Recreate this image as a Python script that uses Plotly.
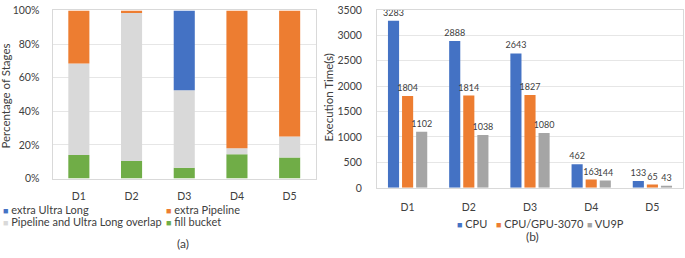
import numpy as np
import plotly.graph_objects as go

W, H = 685, 258
FONT = "Lato, 'Open Sans', sans-serif"
TXT = "#404040"

# ---------------- data (a) ----------------
cats = ["D1", "D2", "D3", "D4", "D5"]
fill_bucket = [14.0, 10.5, 6.5, 14.5, 12.5]
overlap = [54.5, 88.0, 46.0, 3.5, 12.5]
extra_ultra = [0.0, 0.0, 47.5, 0.0, 0.0]
extra_pipe = [31.5, 1.5, 0.0, 82.0, 75.0]
pct_ticks = [0, 20, 40, 60, 80, 100]

# ---------------- data (b) ----------------
cpu = [3283, 2888, 2643, 462, 133]
gpu = [1804, 1814, 1827, 163, 65]
vu9p = [1102, 1038, 1080, 144, 43]
time_ticks = [0, 500, 1000, 1500, 2000, 2500, 3000, 3500]

BLUE, ORANGE, GRAY, LGRAY, GREEN = "#4472C4", "#ED7D31", "#A5A5A5", "#D9D9D9", "#70AD47"


def px(x):
    return x / W


def py(y):
    return 1 - y / H


fig = go.Figure()

# stacked bars for (a) built via base = cumulative sums
stack = [("fill bucket", fill_bucket, GREEN),
         ("Pipeline and Ultra Long overlap", overlap, LGRAY),
         ("extra Ultra Long", extra_ultra, BLUE),
         ("extra Pipeline", extra_pipe, ORANGE)]
base = np.zeros(len(cats))
for name, vals, col in stack:
    v = np.array(vals, dtype=float)
    fig.add_trace(go.Bar(x=cats, y=v, base=base.copy(), name=name, marker_color=col,
                         marker_line_width=0, offsetgroup="L", width=0.4,
                         xaxis="x", yaxis="y", showlegend=False, hoverinfo="skip"))
    base = base + v

# grouped bars for (b)
for i, (name, vals, col) in enumerate([("CPU", cpu, BLUE), ("CPU/GPU-3070", gpu, ORANGE), ("VU9P", vu9p, GRAY)]):
    fig.add_trace(go.Bar(x=cats, y=vals, name=name, marker_color=col, marker_line_width=0,
                         offsetgroup=str(i), xaxis="x2", yaxis="y2", showlegend=False,
                         text=[str(v) for v in vals], textposition="outside",
                         constraintext="none", cliponaxis=False,
                         textfont=dict(size=9, color=TXT, family=FONT)))

axis_common = dict(showline=True, linecolor="#D9D9D9", linewidth=1, mirror=True,
                   tickfont=dict(size=10.5, color=TXT, family=FONT), zeroline=False,
                   ticklabeloverflow="allow")

fig.update_layout(
    width=W, height=H, autosize=False,
    margin=dict(l=0, r=0, t=0, b=0),
    paper_bgcolor="white", plot_bgcolor="white",
    barmode="group", bargap=0.31, bargroupgap=0.21,
    font=dict(family=FONT, color=TXT),
    xaxis=dict(domain=[px(52.5), px(316)], anchor="y", showgrid=False,
               ticklabelstandoff=8, **axis_common),
    yaxis=dict(domain=[py(181), py(4.7)], anchor="x", range=[0, 100],
               tickvals=pct_ticks, ticktext=[f"{t}%" for t in pct_ticks],
               showgrid=True, gridcolor="#E6E6E6", gridwidth=1,
               ticklabelstandoff=10, **axis_common),
    xaxis2=dict(domain=[px(377), px(683)], anchor="y2", showgrid=False,
                ticklabelstandoff=10, **axis_common),
    yaxis2=dict(domain=[py(190.7), py(4)], anchor="x2", range=[0, 3500],
                tickvals=time_ticks, showgrid=True, gridcolor="#E6E6E6", gridwidth=1,
                ticklabelstandoff=12, **axis_common),
)

ann = []
ann.append(dict(text="Percentage of Stages", x=px(6), y=py(95), textangle=-90,
                font=dict(size=11.5, color=TXT, family=FONT)))
ann.append(dict(text="Execution Time(s)", x=px(329), y=py(96), textangle=-90,
                font=dict(size=11.5, color=TXT, family=FONT)))


def leg(label, color, x, y):
    return dict(text=f"<span style='color:{color};font-size:9px'>■</span> {label}",
                x=px(x), y=py(y), xanchor="left",
                font=dict(size=11, color=TXT, family=FONT))


ann += [leg("extra Ultra Long", BLUE, 1, 213),
        leg("extra Pipeline", ORANGE, 164, 213),
        leg("Pipeline and Ultra Long overlap", LGRAY, 1, 226),
        leg("fill bucket", GREEN, 164, 226),
        leg("CPU", BLUE, 455, 228),
        leg("CPU/GPU-3070", ORANGE, 494, 228),
        leg("VU9P", GRAY, 585, 228)]
ann.append(dict(text="(a)", x=px(183), y=py(249), font=dict(size=12, color=TXT, family=FONT)))
ann.append(dict(text="(b)", x=px(532), y=py(242), font=dict(size=12, color=TXT, family=FONT)))

for a in ann:
    a.update(xref="paper", yref="paper", showarrow=False)
    a.setdefault("xanchor", "center")
    a.setdefault("yanchor", "middle")
fig.update_layout(annotations=ann)

fig.write_html("out.html", config={"displayModeBar": False},
               post_script="document.body.style.margin='0';")
